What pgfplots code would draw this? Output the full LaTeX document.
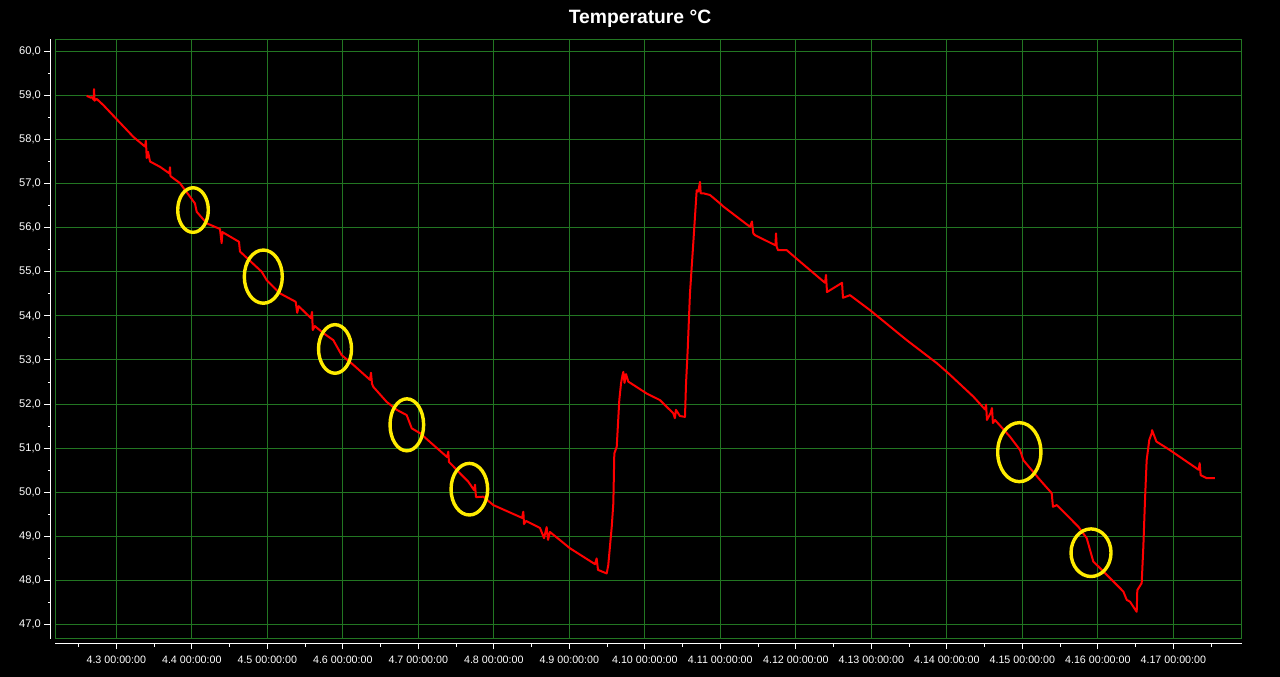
\documentclass[border=0pt]{standalone}
\usepackage{pgfplots}
\pgfplotsset{compat=1.18}
\usepackage{fontspec}
\setmainfont{Liberation Sans}
\definecolor{gridgreen}{RGB}{34,118,34}
\definecolor{ringyellow}{RGB}{255,236,0}
\begin{document}
\begin{tikzpicture}[x=1pt,y=1pt]
\fill[black] (0,0) rectangle (1280,677);
\node[anchor=base, white, inner sep=0pt, font=\fontsize{19.3}{22}\selectfont\bfseries] at (640,653.7) {Temperature °C};
% main plotting area
\begin{axis}[at={(55.3pt,38.3pt)}, anchor=south west, scale only axis,
  width=1186.4pt, height=599.4pt,
  xmin=2.192, xmax=17.906, ymin=46.680, ymax=60.272,
  xtick={3,...,17}, ytick={47,...,60}, xticklabels={}, yticklabels={},
  major tick length=0pt, grid=major,
  major grid style={gridgreen, line width=1pt},
  axis line style={gridgreen, line width=1pt}]
\addplot[red, line width=2pt, line join=round] coordinates {
(2.608,58.99) (2.660,58.95) (2.678,58.96) (2.700,58.90) (2.705,59.14) (2.712,58.88) (2.740,58.92)
(2.828,58.78) (3.225,58.06) (3.380,57.84) (3.392,57.97) (3.403,57.58) (3.420,57.72) (3.447,57.50)
(3.579,57.38) (3.704,57.23) (3.711,57.37) (3.718,57.17) (3.843,57.01) (4.042,56.55) (4.065,56.36)
(4.197,56.10) (4.373,55.97) (4.395,55.65) (4.406,55.90) (4.625,55.68) (4.638,55.46) (4.926,55.00)
(4.992,54.81) (5.168,54.51) (5.376,54.32) (5.396,54.07) (5.416,54.22) (5.576,53.95) (5.593,54.09)
(5.602,53.68) (5.629,53.77) (5.742,53.61) (5.874,53.45) (5.985,53.11) (6.139,52.89) (6.360,52.55)
(6.373,52.71) (6.387,52.46) (6.404,52.39) (6.581,52.05) (6.714,51.87) (6.846,51.75) (6.913,51.45)
(7.023,51.34) (7.380,50.80) (7.397,50.92) (7.406,50.69) (7.552,50.43) (7.662,50.24) (7.738,50.05)
(7.751,50.17) (7.764,49.89) (7.861,49.90) (7.993,49.71) (8.374,49.42) (8.391,49.56) (8.400,49.28)
(8.427,49.35) (8.612,49.19) (8.665,48.96) (8.700,49.21) (8.718,48.92) (8.744,49.10) (9.009,48.73)
(9.340,48.37) (9.362,48.50) (9.380,48.24) (9.495,48.16) (9.516,48.35) (9.562,49.22) (9.583,49.75)
(9.596,50.88) (9.628,51.03) (9.662,52.09) (9.685,52.47) (9.705,52.66) (9.716,52.73) (9.731,52.48)
(9.751,52.68) (9.781,52.51) (10.025,52.24) (10.201,52.09) (10.377,51.79) (10.399,51.68) (10.412,51.87)
(10.465,51.73) (10.532,51.71) (10.546,52.47) (10.568,53.23) (10.598,54.51) (10.642,55.65) (10.687,56.85)
(10.708,56.82) (10.731,57.04) (10.740,56.78) (10.775,56.78) (10.864,56.74) (10.996,56.55) (11.040,56.48)
(11.393,56.02) (11.419,56.14) (11.437,55.87) (11.460,55.83) (11.730,55.60) (11.738,55.87) (11.747,55.57)
(11.764,55.49) (11.880,55.49) (12.056,55.23) (12.387,54.75) (12.400,54.93) (12.413,54.54) (12.612,54.75)
(12.625,54.41) (12.718,54.47) (12.983,54.13) (13.469,53.45) (13.866,52.93) (14.020,52.70) (14.351,52.17)
(14.505,51.88) (14.520,51.99) (14.532,51.64) (14.580,51.80) (14.598,51.91) (14.611,51.57) (14.638,51.64)
(14.837,51.26) (14.969,50.96) (15.013,50.73) (15.234,50.28) (15.389,49.98) (15.406,49.67) (15.456,49.71)
(15.742,49.22) (15.853,48.96) (15.940,48.43) (16.029,48.28) (16.338,47.75) (16.383,47.56) (16.426,47.52)
(16.515,47.29) (16.523,47.78) (16.581,47.94) (16.603,48.77) (16.625,49.83) (16.647,50.73) (16.682,51.19)
(16.714,51.34) (16.718,51.41) (16.776,51.15) (16.952,50.96) (17.336,50.51) (17.349,50.66) (17.362,50.39)
(17.441,50.32) (17.551,50.32)
};
\draw[ringyellow, line width=3.4pt] (axis cs:4.016,56.40) ellipse [x radius=15.3pt, y radius=22.3pt];
\draw[ringyellow, line width=3.4pt] (axis cs:4.947,54.89) ellipse [x radius=19pt, y radius=26.6pt];
\draw[ringyellow, line width=3.4pt] (axis cs:5.897,53.25) ellipse [x radius=16.5pt, y radius=24.3pt];
\draw[ringyellow, line width=3.4pt] (axis cs:6.848,51.53) ellipse [x radius=16.8pt, y radius=26pt];
\draw[ringyellow, line width=3.4pt] (axis cs:7.676,50.07) ellipse [x radius=18.3pt, y radius=25.8pt];
\draw[ringyellow, line width=3.4pt] (axis cs:14.960,50.91) ellipse [x radius=21.6pt, y radius=29.5pt];
\draw[ringyellow, line width=3.4pt] (axis cs:15.910,48.63) ellipse [x radius=20pt, y radius=23.8pt];
\end{axis}
% y axis
\begin{axis}[at={(50.7pt,38.3pt)}, anchor=south west, scale only axis,
  width=1186.4pt, height=599.4pt,
  xmin=0, xmax=1, ymin=46.680, ymax=60.272,
  axis y line=left, hide x axis,
  axis line style={-, white, line width=1pt},
  ytick={47,...,60},
  yticklabels={{47,0},{48,0},{49,0},{50,0},{51,0},{52,0},{53,0},{54,0},{55,0},{56,0},{57,0},{58,0},{59,0},{60,0}},
  minor ytick={47.5,48.5,...,59.5},
  tick align=outside, major tick length=6.4pt, minor tick length=2.6pt,
  tick style={white, line width=1pt},
  /pgf/number format/assume math mode=true,
  yticklabel style={white, anchor=east, font=\fontsize{11.1}{13}\selectfont}]
\end{axis}
% x axis
\begin{axis}[at={(55.3pt,33.3pt)}, anchor=south west, scale only axis,
  width=1186.4pt, height=20pt,
  xmin=2.192, xmax=17.906, ymin=0, ymax=1,
  axis x line=bottom, hide y axis,
  axis line style={-, white, line width=1pt},
  xtick={3,...,17},
  xticklabels={4.3 00:00:00,4.4 00:00:00,4.5 00:00:00,4.6 00:00:00,4.7 00:00:00,4.8 00:00:00,4.9 00:00:00,4.10 00:00:00,4.11 00:00:00,4.12 00:00:00,4.13 00:00:00,4.14 00:00:00,4.15 00:00:00,4.16 00:00:00,4.17 00:00:00},
  minor xtick={2.5,3.5,...,17.5},
  tick align=outside, major tick length=5.6pt, minor tick length=3pt,
  tick style={white, line width=1pt},
  /pgf/number format/assume math mode=true,
  xticklabel style={white, anchor=base, yshift=-14pt, font=\fontsize{10.7}{13}\selectfont}]
\end{axis}
\end{tikzpicture}
\end{document}
